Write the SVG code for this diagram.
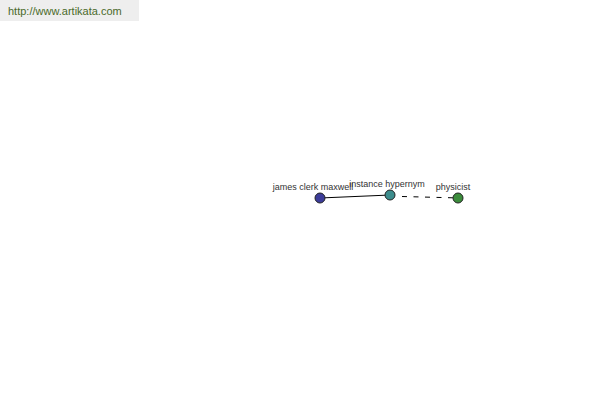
<svg xmlns="http://www.w3.org/2000/svg" width="600" height="400" viewBox="0 0 600 400">
<style>
.lbl{font-family:"Liberation Sans",Arial,sans-serif;font-size:9px;fill:#333;text-anchor:middle}
.node{stroke:#222;stroke-width:1}
.edge{stroke:#000;stroke-width:1;fill:none}
</style>
<rect width="600" height="400" fill="#fff"/>
<g id="header">
<rect x="0" y="0" width="139" height="21" fill="#eeeeee"/>
<text x="8" y="15" font-family="'Liberation Sans',Arial,sans-serif" font-size="11" fill="#4a6a2a">http://www.artikata.com</text>
</g>
<g id="connectors">
<line class="edge" x1="320" y1="198" x2="390" y2="195"/>
<line class="edge" x1="402" y1="196.5" x2="453" y2="197.8" stroke-dasharray="5,6.5"/>
</g>
<g id="node-james">
<circle class="node" cx="320" cy="198" r="5" fill="#3c3c99"/>
<text class="lbl" x="313" y="190">james clerk maxwell</text>
</g>
<g id="node-instance">
<circle class="node" cx="390" cy="195" r="5" fill="#3c8c8c"/>
<text class="lbl" x="387" y="187">instance hypernym</text>
</g>
<g id="node-physicist">
<circle class="node" cx="458" cy="198" r="5" fill="#3c8c3c"/>
<text class="lbl" x="453" y="190">physicist</text>
</g>
</svg>
